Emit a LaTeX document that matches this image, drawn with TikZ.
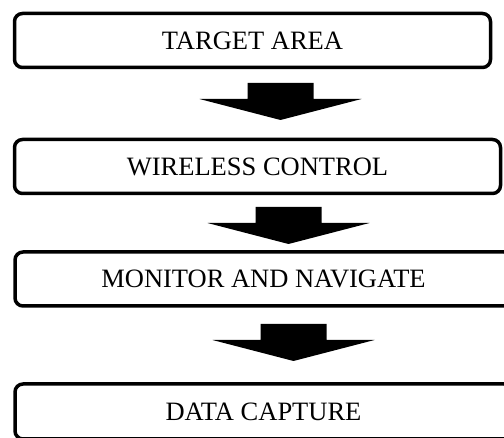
\documentclass[tikz,border=0pt]{standalone}
\usepackage{fontspec}
\setmainfont{Liberation Serif}

\begin{document}
\begin{tikzpicture}[x=1pt,y=-1pt]
        \tikzstyle{every node}=[draw,line width=3.5pt,rounded corners=8pt,inner sep=0pt,minimum height=54pt,font=\fontsize{26.5}{30}\selectfont]
        \tikzset{downarrow/.pic={\fill[sharp corners] (-33,0) -- (33,0) -- (33,16) -- (81,16) -- (0,37) -- (-81,16) -- (-33,16) -- cycle;}}
        \useasboundingbox (0,0) rectangle (504,438);
        \clip (0,0) rectangle (504,438);
        \node[minimum width=476pt] (target) at (252.5,40.5) {TARGET AREA};
        \node[minimum width=486pt] (wireless) at (257.5,166.5) {WIRELESS CONTROL};
        \node[minimum width=497pt] (monitor) at (263.5,279) {MONITOR AND NAVIGATE};
        \node[minimum width=497pt,minimum height=55pt] (capture) at (263.5,411.5) {DATA CAPTURE};
        \pic at (280.5,83) {downarrow};
        \pic at (288.5,207) {downarrow};
        \pic at (293.5,324) {downarrow};
    \end{tikzpicture}
\end{document}
